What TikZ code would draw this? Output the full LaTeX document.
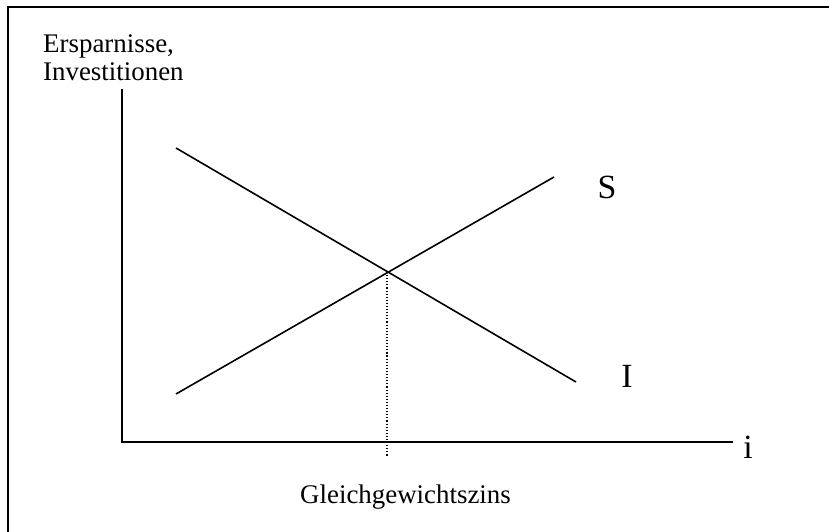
\documentclass[tikz,border=0pt]{standalone}
\usepackage{fontspec}
\setmainfont{Liberation Serif}
\begin{document}
\begin{tikzpicture}[x=1bp,y=-1bp,
  curve/.style={line width=1.6bp},
  axis/.style={line width=1.7bp},
  lbl/.style={inner sep=0pt,font=\fontsize{27}{30}\selectfont},
  biglbl/.style={inner sep=0pt,font=\fontsize{34}{38}\selectfont}]
\useasboundingbox (0,0) rectangle (829,532);
\draw[line width=2bp] (8,7) rectangle (840,545);
% axes
\coordinate (O) at (122,442);
\coordinate (Ytop) at (122,89);
\coordinate (Xend) at (733,442);
\draw[axis] (Ytop) -- (O) -- (Xend);
% curves
\coordinate (S1) at (176,394);
\coordinate (S2) at (554,177);
\coordinate (I1) at (176,148);
\coordinate (I2) at (576,382);
\draw[curve] (S1) -- (S2);
\draw[curve] (I1) -- (I2);
\coordinate (E) at (387,272);
\coordinate (Ebot) at (387,456);
\draw[line width=1.1bp, dotted] (E) -- (Ebot);
% labels
\node[lbl,anchor=base west] (l1) at (43,53) {Ersparnisse,};
\node[lbl,anchor=base west] (l2) at (43,81) {Investitionen};
\node[lbl,anchor=base west] (gz) at (300,503) {Gleichgewichtszins};
\node[biglbl,anchor=base] (sl) at (607,199) {S};
\node[biglbl,anchor=base] (il) at (627,387) {I};
\node[biglbl,anchor=base] (xl) at (748,458) {i};
\end{tikzpicture}
\end{document}
